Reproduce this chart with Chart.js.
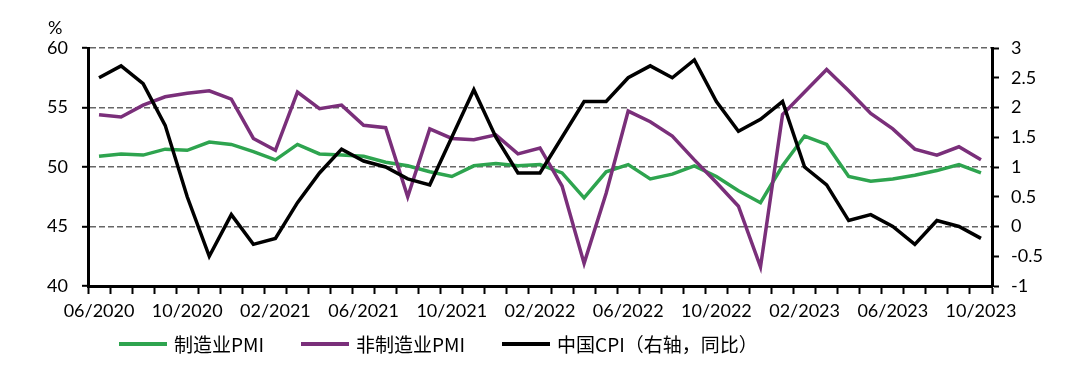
<!DOCTYPE html>
<html>
<head>
<meta charset="utf-8">
<title>PMI &amp; CPI</title>
<style>
  body { margin: 0; background: #fff; }
  .wrap { position: relative; width: 1083px; height: 384px; }
  .legend {
    position: absolute; left: 119px; top: 331px;
    display: flex; align-items: center;
    font-family: "Noto Sans CJK SC", sans-serif; font-size: 19px; line-height: 26px; color: #000;
    white-space: nowrap;
  }
  .legend-item { display: flex; align-items: center; margin-right: 37px; }
  .legend-line { width: 48px; height: 4px; margin-right: 7px; }
</style>
<script src="https://cdn.jsdelivr.net/npm/chart.js"></script>
</head>
<body>
<div class="wrap">
  <canvas id="chart" width="1083" height="384"></canvas>
  <div class="legend" id="legend"></div>
</div>
<script>
// months on the x axis
const months = [
  '06/2020','07/2020','08/2020','09/2020','10/2020','11/2020','12/2020',
  '01/2021','02/2021','03/2021','04/2021','05/2021','06/2021','07/2021','08/2021','09/2021','10/2021','11/2021','12/2021',
  '01/2022','02/2022','03/2022','04/2022','05/2022','06/2022','07/2022','08/2022','09/2022','10/2022','11/2022','12/2022',
  '01/2023','02/2023','03/2023','04/2023','05/2023','06/2023','07/2023','08/2023','09/2023','10/2023'
];
// labelled months
const xTickLabels = ['06/2020','10/2020','02/2021','06/2021','10/2021','02/2022','06/2022','10/2022','02/2023','06/2023','10/2023'];

const mfgPMI = [
  50.9, 51.1, 51.0, 51.5, 51.4, 52.1, 51.9,
  51.3, 50.6, 51.9, 51.1, 51.0, 50.9, 50.4, 50.1, 49.6, 49.2, 50.1, 50.3,
  50.1, 50.2, 49.5, 47.4, 49.6, 50.2, 49.0, 49.4, 50.1, 49.2, 48.0, 47.0,
  50.1, 52.6, 51.9, 49.2, 48.8, 49.0, 49.3, 49.7, 50.2, 49.5
];
const nonMfgPMI = [
  54.4, 54.2, 55.2, 55.9, 56.2, 56.4, 55.7,
  52.4, 51.4, 56.3, 54.9, 55.2, 53.5, 53.3, 47.5, 53.2, 52.4, 52.3, 52.7,
  51.1, 51.6, 48.4, 41.9, 47.8, 54.7, 53.8, 52.6, 50.6, 48.7, 46.7, 41.6,
  54.4, 56.3, 58.2, 56.4, 54.5, 53.2, 51.5, 51.0, 51.7, 50.6
];
const cpiYoY = [
  2.5, 2.7, 2.4, 1.7, 0.5, -0.5, 0.2,
  -0.3, -0.2, 0.4, 0.9, 1.3, 1.1, 1.0, 0.8, 0.7, 1.5, 2.3, 1.5,
  0.9, 0.9, 1.5, 2.1, 2.1, 2.5, 2.7, 2.5, 2.8, 2.1, 1.6, 1.8,
  2.1, 1.0, 0.7, 0.1, 0.2, 0.0, -0.3, 0.1, 0.0, -0.2
];

const seriesNames = ['制造业PMI', '非制造业PMI', '中国CPI（右轴，同比）'];
const seriesColors = ['#2ea44f', '#7a2f7a', '#000000'];

Chart.defaults.font.family = 'Lato';
Chart.defaults.font.size = 18;
Chart.defaults.color = '#000';

// the "%" above the left axis
const unitLabel = {
  id: 'unitLabel',
  afterDraw(chart) {
    const ctx = chart.ctx;
    ctx.save();
    ctx.font = '18px Lato';
    ctx.fillStyle = '#000';
    ctx.textBaseline = 'middle';
    ctx.fillText('%', 48, chart.chartArea.top - 20);
    ctx.restore();
  }
};

function lineSet(label, data, color, axis, order) {
  return {
    label: label,
    data: data,
    yAxisID: axis,
    borderColor: color,
    backgroundColor: color,
    borderWidth: 3.5,
    pointRadius: 0,
    tension: 0,
    order: order
  };
}

const chart = new Chart(document.getElementById('chart'), {
  type: 'line',
  data: {
    labels: months,
    datasets: [
      lineSet(seriesNames[0], mfgPMI, seriesColors[0], 'y', 3),
      lineSet(seriesNames[1], nonMfgPMI, seriesColors[1], 'y', 2),
      lineSet(seriesNames[2], cpiYoY, seriesColors[2], 'y1', 1)
    ]
  },
  options: {
    responsive: false,
    animation: false,
    layout: { padding: { top: 48, left: 0, right: 0, bottom: 0 } },
    plugins: {
      legend: { display: false },
      tooltip: { enabled: false }
    },
    scales: {
      x: {
        offset: true,
        grid: {
          offset: true,
          drawOnChartArea: false,
          drawTicks: true,
          tickLength: 8,
          tickColor: '#000',
          tickWidth: 2
        },
        border: { color: '#000', width: 3 },
        ticks: {
          autoSkip: false,
          maxRotation: 0,
          padding: 6,
          callback: function(value, index) {
            const m = months[index];
            return xTickLabels.includes(m) ? m : '';
          }
        },
        afterFit: function(scale) { scale.height = 98; }
      },
      y: {
        position: 'left',
        min: 40,
        max: 60,
        ticks: { stepSize: 5, padding: 14 },
        grid: {
          color: '#666',
          lineWidth: 1.6,
          tickLength: 6,
          tickColor: '#000',
          tickWidth: 2,
          tickBorderDash: []
        },
        border: { color: '#000', width: 3, dash: [6, 3] },
        afterFit: function(scale) { scale.width = 88; }
      },
      y1: {
        position: 'right',
        min: -1,
        max: 3,
        ticks: {
          stepSize: 0.5,
          padding: 12,
          callback: function(value) { return String(value); }
        },
        grid: {
          drawOnChartArea: false,
          tickLength: 7,
          tickColor: '#000',
          tickWidth: 2
        },
        border: { color: '#000', width: 3 },
        afterFit: function(scale) { scale.width = 91; }
      }
    }
  },
  plugins: [unitLabel]
});

// legend built from the chart's datasets
const legendEl = document.getElementById('legend');
chart.data.datasets.forEach(ds => {
  const item = document.createElement('div');
  item.className = 'legend-item';
  const line = document.createElement('span');
  line.className = 'legend-line';
  line.style.background = ds.borderColor;
  const text = document.createElement('span');
  text.textContent = ds.label;
  item.appendChild(line);
  item.appendChild(text);
  legendEl.appendChild(item);
});
</script>
</body>
</html>
